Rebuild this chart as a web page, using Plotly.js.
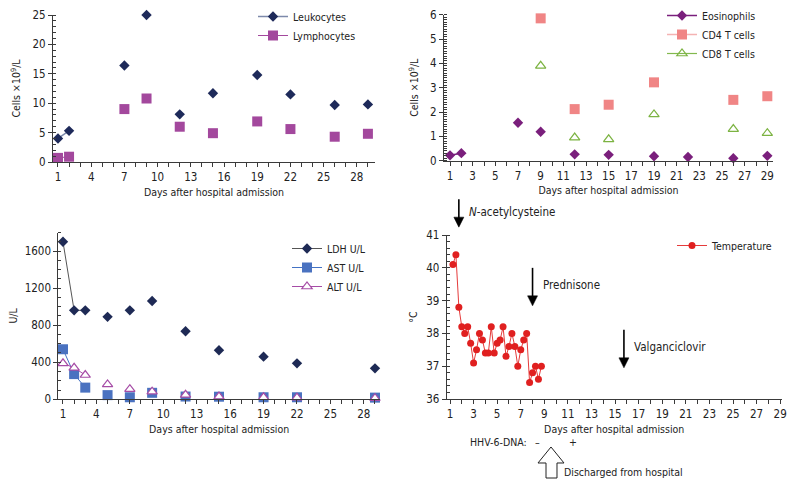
<!DOCTYPE html>
<html>
<head>
<meta charset="utf-8">
<script src="https://cdn.plot.ly/plotly-3.0.1.min.js"></script>
<style>html,body{margin:0;padding:0;background:#fff;}#chart{width:797px;height:488px;}</style>
</head>
<body>
<div id="chart"></div>
<script>
// ---------- DATA ----------
// Panel A: leukocytes / lymphocytes (cells x10^9/L)
const cellDays = [1, 2, 7, 9, 12, 15, 19, 22, 26, 29];
const leukocytes = [4.0, 5.3, 16.4, 25.0, 8.1, 11.7, 14.8, 11.5, 9.7, 9.8];
const lymphocytes = [0.7, 0.9, 9.0, 10.8, 6.0, 4.9, 6.9, 5.6, 4.3, 4.8];

// Panel B: eosinophils, CD4, CD8 (cells x10^9/L)
const eosDays = [1, 2, 7, 9, 12, 15, 19, 22, 26, 29];
const eosinophils = [0.22, 0.31, 1.56, 1.19, 0.26, 0.24, 0.18, 0.15, 0.1, 0.2];
const tDays = [9, 12, 15, 19, 26, 29];
const cd4 = [5.85, 2.12, 2.3, 3.22, 2.5, 2.65];
const cd8 = [3.9, 0.95, 0.88, 1.9, 1.3, 1.13];

// Panel C: LDH / AST / ALT (U/L)
const enzDays = [1, 2, 3, 5, 7, 9, 12, 15, 19, 22, 29];
const ldh = [1700, 960, 960, 890, 960, 1060, 735, 530, 460, 388, 334];
const ast = [540, 272, 126, 45, 22, 70, 30, 28, 22, 22, 18];
const alt = [388, 340, 262, 160, 110, 82, 48, 30, 22, 18, 12];

// Panel D: body temperature (°C)
const tempTimes = [1.25, 1.5, 1.75, 2, 2.25, 2.5, 2.75, 3, 3.25, 3.5, 3.75, 4, 4.25, 4.5, 4.75, 5,
                   5.25, 5.5, 5.75, 6, 6.25, 6.5, 6.75, 7, 7.25, 7.5, 7.75, 8, 8.25, 8.5, 8.75];
const temperature = [40.1, 40.4, 38.8, 38.2, 38.0, 38.2, 37.7, 37.1, 37.5, 38.0, 37.8, 37.4, 37.4, 38.2, 37.4, 37.7,
                     37.8, 38.2, 37.3, 37.6, 38.0, 37.6, 37.0, 37.5, 37.8, 38.0, 36.5, 36.8, 37.0, 36.6, 37.0];

// Treatment events (day, temperature level at arrow tip, arrow length)
const eventLabels = ['<i>N</i>-acetylcysteine', 'Prednisone', 'Valganciclovir'];
const eventDays = [1.75, 8.0, 15.75];
const eventTips = [41.24, 38.84, 36.95];
const eventLens = [28, 38, 38];

const xTitle = 'Days after hospital admission';
const cellTitle = 'Cells \u00d710<sup>9</sup>/L';

// ---------- HELPERS ----------
const W = 797, H = 488;
const px = x => x / W;
const py = y => 1 - y / H;
const FONT = '"DejaVu Sans Condensed", "Liberation Sans Narrow", "DejaVu Sans", sans-serif';
const AX = '#3a3a3a';
const TXT = '#222';
const TICK = 11.5, LAB = 10.5;

// temperature panel geometry (pixels) used to place event arrows
const D = {l: 446.7, r: 781.7, b: 399, t: 235, x0: 0.72, x1: 29.13, y0: 36, y1: 41};
const dX = v => D.l + (v - D.x0) / (D.x1 - D.x0) * (D.r - D.l);
const dY = v => D.b - (v - D.y0) / (D.y1 - D.y0) * (D.b - D.t);

// Connect only measurements on consecutive days
function gapped(days, vals) {
  const x = [], y = [];
  for (let i = 0; i < days.length; i++) {
    if (i > 0 && days[i] - days[i - 1] > 1) { x.push((days[i] + days[i - 1]) / 2); y.push(null); }
    x.push(days[i]); y.push(vals[i]);
  }
  return {x, y};
}
function tr(days, vals, o) {
  const g = gapped(days, vals);
  return Object.assign({type: 'scatter', mode: 'lines+markers', x: g.x, y: g.y, connectgaps: false, cliponaxis: false}, o);
}

const traces = [
  tr(cellDays, leukocytes, {name: 'Leukocytes', xaxis: 'x', yaxis: 'y', legend: 'legend', legendgroup: 'a1',
     line: {color: '#7d8aab', width: 1.5}, marker: {symbol: 'diamond', size: 8, color: '#1e2a5a'}}),
  tr(cellDays, lymphocytes, {name: 'Lymphocytes', xaxis: 'x', yaxis: 'y', legend: 'legend', legendgroup: 'a2',
     line: {color: '#a3489d', width: 1}, marker: {symbol: 'square', size: 10, color: '#a3489d'}}),

  tr(eosDays, eosinophils, {name: 'Eosinophils', xaxis: 'x2', yaxis: 'y2', legend: 'legend2', legendgroup: 'b1',
     line: {color: '#7a1f7c', width: 1.5}, marker: {symbol: 'diamond', size: 8, color: '#7a1f7c'}}),
  tr(tDays, cd4, {name: 'CD4 T cells', xaxis: 'x2', yaxis: 'y2', legend: 'legend2', legendgroup: 'b2',
     line: {color: '#f4b3b3', width: 1.5}, marker: {symbol: 'square', size: 10, color: '#f08585'}}),
  tr(tDays, cd8, {name: 'CD8 T cells', xaxis: 'x2', yaxis: 'y2', legend: 'legend2', legendgroup: 'b3',
     line: {color: '#82b94e', width: 1.2}, marker: {symbol: 'triangle-up-open', size: 9, color: '#7cb342', line: {width: 1.2}}}),

  tr(enzDays, ldh, {name: 'LDH U/L', xaxis: 'x3', yaxis: 'y3', legend: 'legend3', legendgroup: 'c1',
     line: {color: '#555555', width: 1}, marker: {symbol: 'diamond', size: 8, color: '#1e2a55'}}),
  tr(enzDays, ast, {name: 'AST U/L', xaxis: 'x3', yaxis: 'y3', legend: 'legend3', legendgroup: 'c2',
     line: {color: '#4472c4', width: 1}, marker: {symbol: 'square', size: 10, color: '#4a72c0'}}),
  tr(enzDays, alt, {name: 'ALT U/L', xaxis: 'x3', yaxis: 'y3', legend: 'legend3', legendgroup: 'c3',
     line: {color: '#a64ca6', width: 1}, marker: {symbol: 'triangle-up', size: 9, color: '#ffffff', line: {color: '#a64ca6', width: 1.2}}}),

  {type: 'scatter', mode: 'lines+markers', x: tempTimes, y: temperature, name: 'Temperature',
   xaxis: 'x4', yaxis: 'y4', legend: 'legend4', cliponaxis: false,
   line: {color: '#e53b3b', width: 1}, marker: {symbol: 'circle', size: 7, color: '#e02020'}}
];

function xax(domL, domR, range, dtick, anchor) {
  return {domain: [px(domL), px(domR)], range: range, anchor: anchor, tick0: 1, dtick: dtick,
    showline: true, linecolor: AX, linewidth: 1, ticks: 'outside', ticklen: 4, tickcolor: AX,
    minor: {dtick: 1, ticks: 'outside', ticklen: 4, tickcolor: AX, showgrid: false},
    showgrid: false, zeroline: false, tickfont: {size: TICK, color: TXT},
    title: {text: xTitle, font: {size: LAB, color: TXT}, standoff: 5}};
}
function yax(domB, domT, range, dtick, mdtick, anchor, title, standoff) {
  return {domain: [py(domB), py(domT)], range: range, anchor: anchor, dtick: dtick,
    showline: true, linecolor: AX, linewidth: 1, ticks: 'outside', ticklen: 4, tickcolor: AX,
    minor: {dtick: mdtick, ticks: 'inside', ticklen: 3, tickcolor: AX, showgrid: false},
    showgrid: false, zeroline: false, tickfont: {size: TICK, color: TXT},
    title: {text: title, font: {size: LAB, color: TXT}, standoff: standoff}};
}
function leg(x, y) {
  return {x: px(x), y: py(y), xanchor: 'left', yanchor: 'top', bgcolor: 'rgba(0,0,0,0)',
    font: {size: LAB, color: TXT}, tracegroupgap: 2, traceorder: 'normal'};
}

const annotations = [];
const shapes = [];
eventDays.forEach((d, i) => {
  const x = dX(d), tip = dY(eventTips[i]), top = tip - eventLens[i];
  shapes.push({type: 'line', xref: 'paper', yref: 'paper', x0: px(x), x1: px(x), y0: py(top), y1: py(tip - 8),
               line: {color: '#000', width: 1.6}});
  shapes.push({type: 'path', xref: 'paper', yref: 'paper',
               path: `M ${px(x - 5)},${py(tip - 10)} L ${px(x + 5)},${py(tip - 10)} L ${px(x)},${py(tip)} Z`,
               fillcolor: '#000', line: {color: '#000', width: 0.5}});
  annotations.push({xref: 'paper', yref: 'paper', x: px(x + 8), y: py(tip - eventLens[i] * 0.55),
    text: eventLabels[i], showarrow: false, xanchor: 'left', yanchor: 'middle', font: {size: 11.5, color: TXT}});
});
annotations.push(
  {xref: 'paper', yref: 'paper', x: px(468), y: py(442), text: 'HHV-6-DNA:', showarrow: false, xanchor: 'left', yanchor: 'middle', font: {size: LAB, color: TXT}},
  {xref: 'paper', yref: 'paper', x: px(537), y: py(442), text: '\u2013', showarrow: false, xanchor: 'center', yanchor: 'middle', font: {size: LAB, color: TXT}},
  {xref: 'paper', yref: 'paper', x: px(573), y: py(442), text: '+', showarrow: false, xanchor: 'center', yanchor: 'middle', font: {size: LAB, color: TXT}},
  {xref: 'paper', yref: 'paper', x: px(562), y: py(472), text: 'Discharged from hospital', showarrow: false, xanchor: 'left', yanchor: 'middle', font: {size: LAB, color: TXT}}
);

// Hollow upward arrow (discharge marker)
const ap = [[551, 447], [564, 463], [557, 463], [557, 478], [546, 478], [546, 463], [538, 463]];
shapes.push({type: 'path', xref: 'paper', yref: 'paper',
  path: 'M ' + ap.map(p => px(p[0]).toFixed(5) + ',' + py(p[1]).toFixed(5)).join(' L ') + ' Z',
  line: {color: '#222', width: 1}, fillcolor: '#fff'});

const layout = {
  width: W, height: H,
  margin: {l: 0, r: 0, t: 0, b: 0},
  paper_bgcolor: '#fff', plot_bgcolor: 'rgba(0,0,0,0)',
  font: {family: FONT, size: LAB, color: TXT},
  showlegend: true,
  xaxis: xax(53, 375, [0.55, 29.64], 3, 'y'),
  yaxis: yax(162, 15, [0, 25], 5, 1, 'x', cellTitle, 9),
  xaxis2: xax(444, 773, [0.47, 29.5], 2, 'y2'),
  yaxis2: yax(160.7, 14.7, [0, 6], 1, 0.1, 'x2', cellTitle, 9),
  xaxis3: xax(58.3, 380, [0.58, 29.45], 3, 'y3'),
  yaxis3: yax(399.3, 232.5, [0, 1800], 400, 100, 'x3', 'U/L', 4),
  xaxis4: xax(D.l, D.r, [D.x0, D.x1], 2, 'y4'),
  yaxis4: yax(D.b, D.t, [D.y0, D.y1], 1, 0.2, 'x4', '\u00b0C', 6),
  legend: leg(253, 2),
  legend2: leg(662, 1),
  legend3: leg(287, 234),
  legend4: leg(672, 231),
  annotations: annotations,
  shapes: shapes
};
layout.yaxis3.tickvals = [0, 400, 800, 1200, 1600];

Plotly.newPlot('chart', traces, layout, {displayModeBar: false, staticPlot: true});
</script>
</body>
</html>
